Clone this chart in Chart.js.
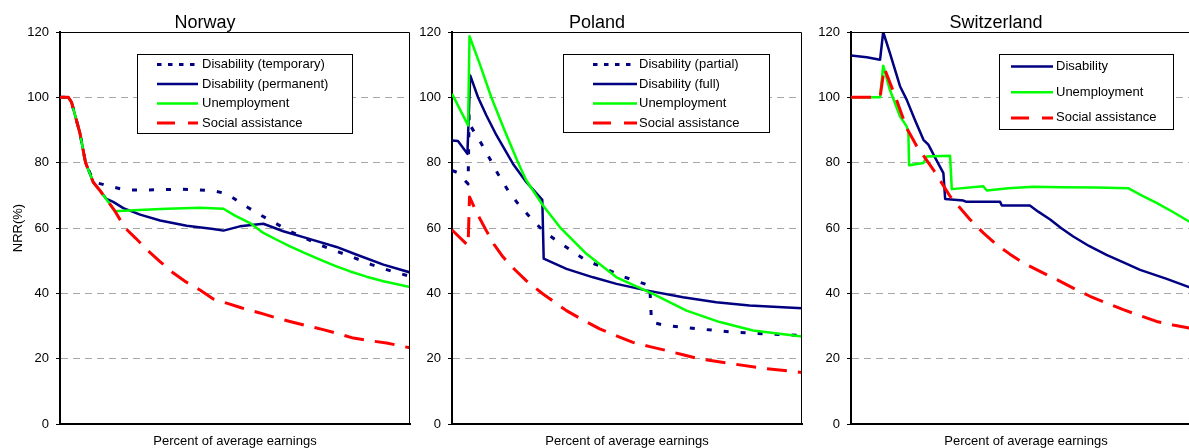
<!DOCTYPE html>
<html lang="en">
  <head>
    <meta charset="UTF-8" />
    <title>NRR by earnings</title>
    <style>
      html, body { margin: 0; padding: 0; width: 1189px; height: 448px; overflow: hidden; background: #fff; }
      canvas { position: absolute; top: 0; }
    </style>
  </head>
  <body>
    <canvas id="norway" width="416" height="452" style="left:0px"></canvas>
    <canvas id="poland" width="414" height="452" style="left:392px"></canvas>
    <canvas id="switzerland" width="412" height="452" style="left:791px"></canvas>

    <script src="https://cdn.jsdelivr.net/npm/chart.js@4.4.0/dist/chart.umd.min.js"></script>
    <script>
      //data (x = position along the earnings axis, 0-100)
      const noTempX = [0, 2.4, 3.3, 5.7, 7.3, 9.5, 11.4, 14, 19, 28.6, 34.3, 43.8, 47.6, 52.4, 57.1, 65.7, 74.8, 79.5, 84.3, 89, 93.8, 100];
      const noTempY = [100, 100, 98.5, 89, 80, 74.5, 73.6, 72.8, 71.6, 71.7, 71.9, 71.4, 70.5, 67.1, 64.1, 59, 54.6, 52.7, 50.8, 48.8, 47.1, 45.2];
      const noPermX = [0, 2.4, 3.3, 5.7, 7.3, 9.5, 11.4, 13.3, 15.2, 18.1, 22.9, 28.6, 36.2, 43.8, 46.7, 51.4, 58.1, 63.8, 70.5, 79, 84.8, 92.4, 100];
      const noPermY = [100, 100, 98.5, 89, 80, 74, 71.5, 68.9, 68, 66.1, 64.1, 62.3, 60.7, 59.7, 59.2, 60.5, 61.3, 59, 56.9, 54.2, 51.8, 48.8, 46.4];
      const noUnempX = [0, 2.4, 3.3, 5.7, 7.3, 9.5, 11.4, 13.3, 15.7, 21, 30.5, 40, 46.7, 50, 54.3, 58.1, 61.9, 65.7, 70, 74.3, 78.6, 82.9, 87.6, 92.4, 100];
      const noUnempY = [100, 100, 98.5, 89, 80, 74, 71.5, 68.7, 65.1, 65.4, 65.9, 66.2, 65.9, 63.8, 61.5, 58.5, 56.4, 54.4, 52.3, 50.3, 48.4, 46.7, 45.1, 43.7, 41.9];
      const noSocX = [0, 2.4, 3.3, 5.7, 7.3, 9.5, 11.4, 13.3, 15.5, 18.6, 21.5, 24.8, 28.5, 32.4, 36, 40, 43.8, 47.6, 52, 57.1, 61.4, 65.7, 70.5, 75.2, 80, 83.8, 88.5, 93.3, 100];
      const noSocY = [100, 100, 98.5, 89, 80, 74, 71.5, 68.7, 65.5, 60, 57, 53.4, 49.8, 46.2, 43.5, 41, 38.3, 37, 35.5, 34, 32.6, 31.4, 30.1, 28.9, 27.5, 26.3, 25.5, 24.8, 23.3];

      const plPartX = [0, 1.5, 4.6, 4.9, 5.5, 8.4, 10.8, 13.1, 16, 18.9, 22.7, 26, 29.8, 34.1, 38.4, 43.1, 47.9, 52.2, 56.5, 57, 61.2, 70.8, 80.3, 89.8, 100];
      const plPartY = [77.6, 77, 73.5, 94.5, 90.9, 85.8, 81.2, 76.6, 71.5, 67.4, 62.8, 59.2, 56.2, 53.1, 50, 48, 45.5, 43.9, 42.4, 31.2, 30.1, 29.1, 28.1, 27.6, 27.1];
      const plFullX = [0, 1.7, 4.4, 5.2, 7.4, 9.8, 12.7, 17.4, 21.2, 25.8, 26.2, 32.7, 40.3, 47, 55.5, 66, 75.5, 85, 100];
      const plFullY = [86.8, 86.6, 82.7, 106.7, 100.1, 94.5, 88.4, 79.7, 74.1, 68.6, 50.6, 47.5, 44.9, 42.9, 40.9, 38.8, 37.3, 36.3, 35.4];
      const plUnempX = [0, 4.6, 5.0, 7.9, 11.2, 15, 18.9, 21.2, 26, 30.8, 38.4, 47, 57.4, 67, 76.5, 86, 100];
      const plUnempY = [101.1, 91.4, 118.7, 110.3, 100.1, 89.9, 80, 74.6, 66.9, 60.3, 52.1, 44.9, 39.8, 34.7, 31.2, 28.6, 26.8];
      const plSocX = [0, 4.6, 5.0, 7.4, 9.8, 12, 14.6, 17.9, 21.2, 26, 32.7, 37.5, 42.2, 47, 51.7, 56.5, 61.2, 66, 70.8, 80.3, 89.8, 100];
      const plSocY = [59.4, 54.6, 69.5, 64, 59.2, 55, 51.1, 47.3, 43.9, 39.8, 34.7, 31.8, 29.1, 27, 25, 23.7, 22.5, 21.2, 19.9, 18.4, 16.9, 15.8];

      const chDisX = [0, 4.5, 8.3, 9.2, 11.1, 14, 15.9, 18.3, 20.7, 22.1, 24.3, 26.4, 26.9, 32.1, 33, 42.6, 43.1, 51.1, 53.5, 56.9, 60, 63.5, 68, 73, 78, 82.6, 90, 96.6, 100];
      const chDisY = [112.8, 112.3, 111.5, 120, 113.6, 103.4, 99.3, 93, 87, 85.5, 81, 76.8, 68.9, 68.4, 68, 68, 66.9, 66.9, 65, 62.6, 60, 57.4, 54.5, 51.8, 49.4, 47.2, 44.5, 41.9, 40.8];
      const chUnempX = [0, 8.3, 9.2, 11.1, 14, 15.9, 16.4, 16.6, 20.7, 21.6, 28.3, 28.8, 37.8, 38.8, 45, 52.1, 60, 70, 79.2, 83, 87.3, 92, 96.6, 100];
      const chUnempY = [100, 100, 109.7, 102.3, 94.2, 91.1, 89, 79.2, 79.9, 81.9, 82.1, 71.9, 72.8, 71.5, 72.2, 72.6, 72.5, 72.4, 72.2, 70, 67.7, 64.9, 62, 60.2];
      const chSocX = [0, 8.3, 9.5, 13, 15.9, 18.8, 23.5, 28.3, 34, 37.8, 41.6, 45.4, 49.2, 54, 58.8, 63.5, 68.3, 73, 77.8, 82.5, 87.3, 92, 96.6, 100];
      const chSocY = [100, 100, 109, 99.3, 90.6, 85, 77.9, 69.7, 62.6, 58.5, 54.9, 52, 49.3, 46.7, 44.2, 41.6, 39.1, 37, 35, 33.2, 31.4, 30.3, 29.4, 28.6];

      const yTicks = [0, 20, 40, 60, 80, 100, 120];

      //styles
      const NAVY = '#000080';
      const GREEN = '#00ff00';
      const RED = '#ff0000';
      const FONT = '"Liberation Sans", Arial, sans-serif';

      Chart.defaults.font.family = FONT;
      Chart.defaults.color = '#000';

      const pts = (xs, ys) => xs.map((x, i) => ({ x: x, y: ys[i] }));

      const dotted = (label, xs, ys) => ({ label, data: pts(xs, ys), borderColor: NAVY, borderWidth: 3, borderDash: [5, 12], sampleDash: [4.5, 6.5], order: 3 });
      const solidNavy = (label, xs, ys) => ({ label, data: pts(xs, ys), borderColor: NAVY, borderWidth: 2.5, order: 2 });
      const unemp = (xs, ys) => ({ label: 'Unemployment', data: pts(xs, ys), borderColor: GREEN, borderWidth: 2.5, order: 1 });
      const social = (xs, ys) => ({ label: 'Social assistance', data: pts(xs, ys), borderColor: RED, borderWidth: 3, borderDash: [20, 11], sampleDash: [18, 13], order: 0 });

      //plugins
      const frame = {
        id: 'frame',
        afterDraw(chart) {
          const { ctx, chartArea: a } = chart;
          ctx.save();
          ctx.strokeStyle = '#000';
          ctx.lineWidth = 1;
          ctx.beginPath();
          ctx.moveTo(a.left, a.top + 0.5);
          ctx.lineTo(a.right - 0.5, a.top + 0.5);
          ctx.lineTo(a.right - 0.5, a.bottom);
          ctx.stroke();
          ctx.restore();
        }
      };

      const boxLegend = {
        id: 'boxLegend',
        afterDraw(chart, args, o) {
          if (!o.box) return;
          const ctx = chart.ctx;
          const [bx, by, bw, bh] = o.box;
          ctx.save();
          ctx.fillStyle = '#fff';
          ctx.fillRect(bx, by, bw, bh);
          ctx.strokeStyle = '#000';
          ctx.lineWidth = 1;
          ctx.strokeRect(bx + 0.5, by + 0.5, bw, bh);
          ctx.font = '13px ' + FONT;
          ctx.textBaseline = 'middle';
          chart.data.datasets.forEach((ds, i) => {
            const y = o.rowY + i * o.rowStep;
            ctx.strokeStyle = ds.borderColor;
            ctx.lineWidth = ds.borderWidth;
            ctx.setLineDash(ds.sampleDash || []);
            ctx.beginPath();
            ctx.moveTo(o.sampleX, y);
            ctx.lineTo(o.sampleX + o.sampleW, y);
            ctx.stroke();
            ctx.setLineDash([]);
            ctx.fillStyle = '#000';
            ctx.fillText(ds.label, o.textX, y);
          });
          ctx.restore();
        }
      };

      //config
      function makeConfig(title, datasets, yTitle, padRight, legendOpts) {
        return {
          type: 'line',
          data: { datasets },
          plugins: [frame, boxLegend],
          options: {
            responsive: false,
            animation: false,
            events: [],
            layout: { padding: { right: padRight } },
            elements: {
              point: { radius: 0 },
              line: { tension: 0, fill: false, borderCapStyle: 'butt', borderJoinStyle: 'round' }
            },
            scales: {
              x: {
                type: 'linear',
                min: 0,
                max: 100,
                grid: { display: false },
                border: { display: true, color: '#000', width: 2 },
                ticks: { display: false },
                title: {
                  display: true,
                  text: 'Percent of average earnings',
                  color: '#000',
                  font: { size: 13, lineHeight: 1 },
                  padding: { top: 0, bottom: 4 }
                },
                afterFit: (s) => { s.height = 28; }
              },
              y: {
                min: 0,
                max: 120,
                afterBuildTicks: (s) => { s.ticks = yTicks.map((v) => ({ value: v })); },
                ticks: { padding: 7, color: '#000', font: { size: 13 } },
                grid: {
                  color: (c) => (c.tick && c.tick.value > 0 && c.tick.value < 120 ? '#a6a6a6' : 'rgba(0,0,0,0)'),
                  lineWidth: 1,
                  tickColor: '#000',
                  tickLength: 4
                },
                border: { display: true, color: '#000', width: 2, dash: [7, 5] },
                title: {
                  display: yTitle,
                  text: 'NRR(%)',
                  color: '#000',
                  font: { size: 13, lineHeight: 1 },
                  padding: { top: 12, bottom: 0 }
                },
                afterFit: (s) => { s.width = 60; }
              }
            },
            plugins: {
              legend: { display: false },
              tooltip: { enabled: false },
              title: {
                display: true,
                text: title,
                color: '#000',
                font: { size: 18, weight: 'normal', lineHeight: 1 },
                padding: { top: 14, bottom: 0 }
              },
              boxLegend: legendOpts
            }
          }
        };
      }

      //init
      new Chart(document.getElementById('norway'), makeConfig('Norway', [
        dotted('Disability (temporary)', noTempX, noTempY),
        solidNavy('Disability (permanent)', noPermX, noPermY),
        unemp(noUnempX, noUnempY),
        social(noSocX, noSocY)
      ], true, 6, { box: [137, 54, 215, 79], rowY: 64.5, rowStep: 19.5, sampleX: 157, sampleW: 41, textX: 202 }));

      new Chart(document.getElementById('poland'), makeConfig('Poland', [
        dotted('Disability (partial)', plPartX, plPartY),
        solidNavy('Disability (full)', plFullX, plFullY),
        unemp(plUnempX, plUnempY),
        social(plSocX, plSocY)
      ], false, 4, { box: [171, 54, 206, 78], rowY: 64.5, rowStep: 19.5, sampleX: 201, sampleW: 44, textX: 247 }));

      new Chart(document.getElementById('switzerland'), makeConfig('Switzerland', [
        solidNavy('Disability', chDisX, chDisY),
        unemp(chUnempX, chUnempY),
        social(chSocX, chSocY)
      ], false, 2, { box: [208, 54, 174, 75], rowY: 66.5, rowStep: 25.7, sampleX: 220, sampleW: 42, textX: 265 }));
    </script>
  </body>
</html>
